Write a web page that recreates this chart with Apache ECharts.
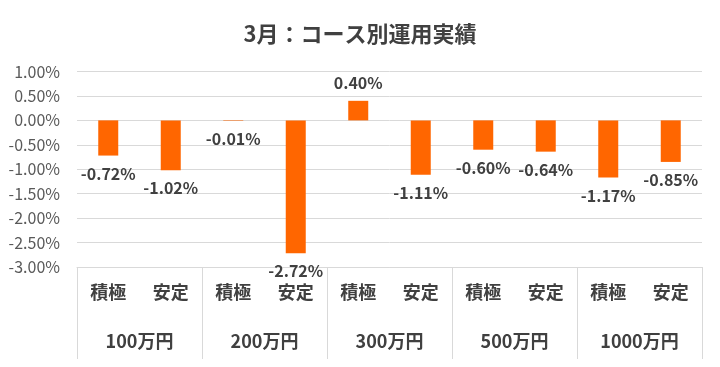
<!DOCTYPE html>
<html>
<head>
<meta charset="utf-8">
<script src="https://cdn.jsdelivr.net/npm/echarts@6/dist/echarts.min.js"></script>
<style>html,body{margin:0;padding:0;background:#fff;}#c{width:720px;height:367px;}</style>
</head>
<body>
<div id="c"></div>
<script>
const titleText = '3月：コース別運用実績';
const categories = ['積極','安定','積極','安定','積極','安定','積極','安定','積極','安定'];
const groups = ['100万円','200万円','300万円','500万円','1000万円'];
const values = [-0.72, -1.02, -0.01, -2.72, 0.40, -1.11, -0.60, -0.64, -1.17, -0.85];

const FONT = '"Noto Sans CJK JP", "Noto Sans", sans-serif';
const chart = echarts.init(document.getElementById('c'), null, {renderer: 'canvas'});
const seriesData = values.map(v => ({
  value: v,
  label: { position: v >= 0 ? 'top' : 'bottom', distance: 10 }
}));
chart.setOption({
  animation: false,
  backgroundColor: '#ffffff',
  title: {
    text: titleText, left: 'center', top: 18,
    textStyle: { fontFamily: FONT, fontSize: 22, fontWeight: 'bold', color: '#404040' }
  },
  grid: { left: 77, right: 18, top: 71.5, bottom: 100, containLabel: false },
  xAxis: [
    {
      type: 'category', data: categories, position: 'bottom',
      axisLine: { show: false }, axisTick: { show: false },
      axisLabel: { margin: 16, fontFamily: FONT, fontSize: 18, fontWeight: 'bold', color: '#404040' }
    },
    {
      type: 'category', data: groups, position: 'bottom',
      axisLine: { show: true, onZero: false, lineStyle: { color: '#d9d9d9', width: 1 } },
      axisTick: { show: true, length: 92, lineStyle: { color: '#d9d9d9', width: 1 } },
      axisLabel: { margin: 65, fontFamily: FONT, fontSize: 18, fontWeight: 'bold', color: '#404040' },
      splitLine: { show: false }
    }
  ],
  yAxis: {
    type: 'value', min: -3, max: 1, interval: 0.5,
    axisLine: { show: false }, axisTick: { show: false },
    axisLabel: { margin: 17, fontFamily: FONT, fontSize: 16, color: '#595959',
      formatter: v => v.toFixed(2) + '%' },
    splitLine: { lineStyle: { color: '#d9d9d9', width: 1 } }
  },
  series: [{
    type: 'bar', xAxisIndex: 0, data: seriesData, barWidth: 20,
    itemStyle: { color: '#FF6600' },
    label: { show: true, fontFamily: FONT, fontSize: 16, fontWeight: 'bold', color: '#404040',
      formatter: p => p.value.toFixed(2) + '%' }
  }]
});
</script>
</body>
</html>
